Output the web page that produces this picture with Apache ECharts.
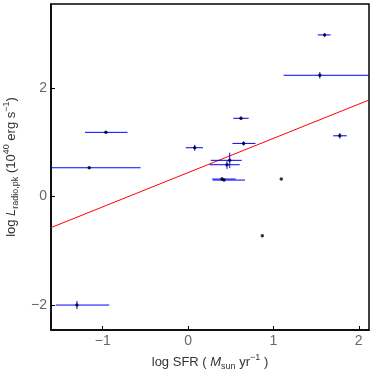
<!DOCTYPE html>
<html>
<head>
<meta charset="utf-8">
<script src="https://cdn.jsdelivr.net/npm/echarts@6/dist/echarts.min.js"></script>
<style>
  html, body { margin: 0; padding: 0; background: #fff; }
  #chart { width: 374px; height: 374px; }
</style>
</head>
<body>
<div id="chart"></div>
<script>
// values
var sfr    = [1.60, 1.544, 0.62, 1.778, 0.651, 0.078, -0.963, -1.158, 0.488, 0.456, 0.398, 0.421, 1.092, 0.87, -1.302];
var lumPk  = [2.98, 2.236, 1.443, 1.12, 0.98, 0.90, 1.184, 0.531, 0.668, 0.587, 0.323, 0.304, 0.323, -0.723, -2.0];
var sfrLo  = [1.52, 1.12, 0.53, 1.70, 0.52, -0.027, -1.208, -1.76, 0.266, 0.254, 0.281, 0.29, null, null, -1.55];
var sfrHi  = [1.67, 2.25, 0.71, 1.86, 0.79, 0.175, -0.709, -0.557, 0.628, 0.605, 0.558, 0.667, null, null, -0.924];
var lumErr = [0.03, 0.06, 0.03, 0.05, 0.04, 0.055, 0.02, 0.02, 0.14, 0.077, 0.03, 0.02, null, null, 0.074];

var fitX = [-1.61, 2.12];
var fitY = [-0.575, 1.78];

var xTicks = [-1, 0, 1, 2];
var yTicks = [-2, 0, 2];

var pts = sfr.map(function (x, i) { return [x, lumPk[i]]; });
var errData = sfr.map(function (x, i) { return [x, lumPk[i], sfrLo[i], sfrHi[i], lumErr[i]]; });
var fitData = fitX.map(function (x, i) { return [x, fitY[i]]; });

function minus(v) { return String(v).replace('-', '\u2212'); }

var FONT = 'Liberation Sans';
var nameRich = {
  n: { fontSize: 13, color: '#333', fontFamily: FONT, lineHeight: 18 },
  i: { fontSize: 13, color: '#333', fontFamily: FONT, fontStyle: 'italic', lineHeight: 18 },
  sub: { fontSize: 9, color: '#333', fontFamily: FONT, verticalAlign: 'bottom', lineHeight: 18 },
  sup: { fontSize: 9, color: '#333', fontFamily: FONT, verticalAlign: 'top', lineHeight: 18 }
};

var chart = echarts.init(document.getElementById('chart'));
chart.setOption({
  animation: false,
  grid: {
    left: 51, right: 5, top: 4, bottom: 44, containLabel: false, outerBoundsMode: 'none',
    show: true, borderColor: '#000', borderWidth: 1.5, backgroundColor: 'transparent'
  },
  xAxis: {
    type: 'value', min: -1.606, max: 2.12,
    splitLine: { show: false },
    axisLine: { show: true, onZero: false, lineStyle: { color: '#000', width: 1.5 } },
    axisTick: { show: true, inside: true, length: 4, customValues: xTicks, lineStyle: { color: '#000' } },
    axisLabel: { customValues: xTicks, formatter: minus, color: '#666', fontSize: 14, margin: 4, fontFamily: FONT },
    name: '{n|log SFR ( }{i|M}{sub|sun}{n| yr}{sup|\u22121}{n| )}',
    nameLocation: 'middle', nameGap: 23,
    nameTextStyle: { rich: nameRich }
  },
  yAxis: {
    type: 'value', min: -2.46, max: 3.55,
    splitLine: { show: false },
    axisLine: { show: true, onZero: false, lineStyle: { color: '#000', width: 1.5 } },
    axisTick: { show: true, inside: true, length: 4, customValues: yTicks, lineStyle: { color: '#000' } },
    axisLabel: { customValues: yTicks, formatter: minus, color: '#666', fontSize: 14, margin: 4, fontFamily: FONT },
    name: '{n|log }{i|L}{sub|radio,pk}{n| (10}{sup|40}{n| erg s}{sup|\u22121}{n|)}',
    nameLocation: 'middle', nameGap: 26, nameRotate: 90,
    nameTextStyle: { rich: nameRich }
  },
  series: [
    {
      type: 'line', data: fitData, symbol: 'none', clip: true,
      lineStyle: { color: '#ff0000', width: 1 }, z: 2
    },
    {
      type: 'custom', data: errData, clip: true, z: 3,
      renderItem: function (params, api) {
        if (api.value(2) == null || isNaN(api.value(2))) return null;
        var x = api.value(0), y = api.value(1);
        var a = api.coord([api.value(2), y]);
        var b = api.coord([api.value(3), y]);
        var c = api.coord([x, y - api.value(4)]);
        var d = api.coord([x, y + api.value(4)]);
        var st = { stroke: '#0000ff', lineWidth: 1, fill: null };
        return {
          type: 'group',
          children: [
            { type: 'line', shape: { x1: a[0], y1: a[1], x2: b[0], y2: b[1] }, style: st },
            { type: 'line', shape: { x1: c[0], y1: c[1], x2: d[0], y2: d[1] }, style: st }
          ]
        };
      }
    },
    {
      type: 'scatter', data: pts, symbol: 'circle', symbolSize: 3.5,
      itemStyle: { color: '#000' }, z: 4
    }
  ]
});
</script>
</body>
</html>
